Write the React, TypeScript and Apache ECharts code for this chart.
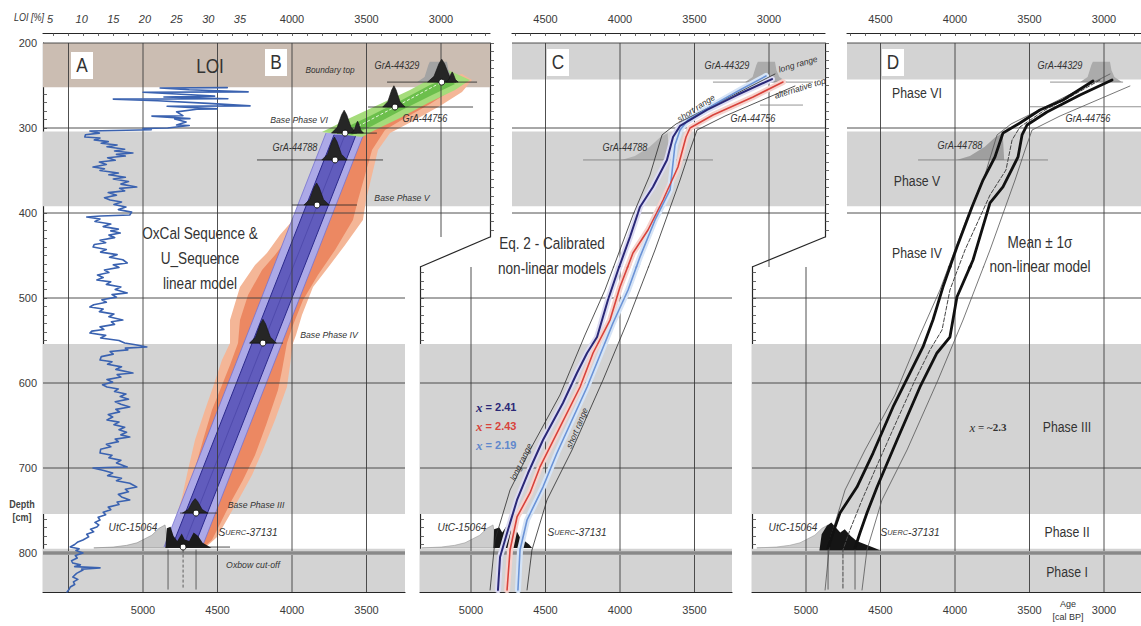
import React, { useEffect, useRef } from "react";
import * as echarts from "echarts";

// ================= DATA (age: cal BP, depth: cm, LOI: %) =================
const LOI_TICK_LABELS = [5, 10, 15, 20, 25, 30, 35];
const AGE_LABELS_B_TOP = [4000, 3500, 3000];
const AGE_LABELS_B_BOTTOM = [5000, 4500, 4000, 3500];
const AGE_LABELS_C_TOP = [4500, 4000, 3500, 3000];
const AGE_LABELS_C_BOTTOM = [5000, 4500, 4000, 3500];
const AGE_LABELS_D_TOP = [4500, 4000, 3500, 3000];
const AGE_LABELS_D_BOTTOM = [5000, 4500, 4000, 3500, 3000];
const DEPTH_LABELS_UPPER = [200, 300, 400];
const DEPTH_LABELS_LOWER = [500, 600, 700, 800];
const AGE_GRID_LINES = [5500, 5000, 4500, 4000, 3500, 3000];
const DEPTH_GRID_LINES = [200, 300, 400, 500, 600, 700, 800];

const PHASE_GRAY_BANDS = [[304, 392], [554, 754], [795, 846]];
const TOP_BAND_B = [200, 252];
const TOP_BAND_CD = [200, 243];
const OXBOW_DEPTH = 800;

// Panel A: loss on ignition [LOI %, depth]
const LOI = [
  [33.0, 252.5], [22.4, 253.0], [27.0, 255.0], [36.3, 257.5], [19.7, 258.0], [25.0, 260.0], [31.0, 262.5], [23.0, 263.5],
  [33.1, 265.5], [15.0, 266.0], [22.0, 268.0], [30.0, 271.0], [36.6, 274.0], [23.5, 274.5], [31.4, 277.5], [28.2, 278.0],
  [25.0, 281.0], [26.0, 285.5], [21.1, 286.0], [27.1, 289.0], [24.7, 289.5], [26.5, 293.0], [25.0, 296.5], [27.0, 297.0],
  [23.6, 300.0], [19.7, 300.5], [21.0, 302.0], [11.3, 303.5], [12.8, 306], [10.6, 308], [10.5, 310.6], [12.9, 311.8],
  [12.0, 314], [14.2, 316], [13.1, 318], [15.6, 320], [14.0, 322], [16.8, 325], [15.2, 327], [18.1, 329.4], [15.5, 331],
  [16.9, 333], [14.1, 335], [15.3, 338], [12.8, 340], [13.9, 343], [11.8, 345.9], [13.6, 348], [12.9, 350], [15.8, 353],
  [14.3, 355], [16.9, 358], [15.0, 360], [17.4, 363], [16.2, 366], [18.7, 369.4], [16.0, 371], [16.8, 374], [14.2, 376],
  [15.5, 379], [13.6, 382], [14.5, 384.7], [16.3, 387], [15.1, 390], [17.0, 393], [15.8, 396], [17.9, 399], [17.6, 402.4],
  [13.0, 403.5], [10.8, 404.7], [12.9, 407], [12.1, 410], [14.6, 413], [13.4, 416], [15.8, 419], [14.6, 421], [16.1, 423.5],
  [14.3, 426], [15.2, 429], [12.9, 432], [13.8, 435], [12.0, 437], [11.8, 440], [13.9, 443], [13.0, 446], [15.6, 449],
  [14.4, 452], [16.5, 455], [17.2, 458.8], [15.0, 461], [15.9, 464], [13.6, 467], [14.3, 470], [12.5, 473], [13.4, 476],
  [12.4, 478.8], [14.6, 481], [13.9, 484], [16.2, 487], [15.3, 490], [17.2, 494], [14.8, 496], [15.5, 499], [13.2, 502],
  [13.9, 505], [11.9, 508], [11.3, 510.6], [13.4, 513], [12.8, 516], [15.1, 519], [14.3, 522], [16.5, 525.9], [14.7, 528],
  [15.2, 531], [12.9, 534], [13.5, 537], [11.6, 539], [11.3, 541.2], [13.8, 544], [13.0, 547], [15.9, 550], [16.8, 553],
  [18.5, 555], [20.3, 557.6], [16.9, 559], [17.3, 561], [14.5, 563], [15.0, 566], [13.1, 569], [12.9, 572.9], [14.8, 575],
  [14.1, 578], [16.3, 581], [15.4, 584], [18.1, 588.2], [15.6, 590], [16.2, 593], [14.0, 596], [14.9, 599], [13.3, 602],
  [14.0, 604.7], [15.8, 607], [15.2, 610], [17.0, 613], [16.1, 616], [17.4, 619], [15.3, 622], [16.2, 625], [17.6, 628.2],
  [15.4, 631], [16.0, 634], [14.2, 637], [14.9, 640], [14.0, 643.5], [15.9, 646], [15.1, 649], [16.8, 652], [15.9, 655],
  [17.1, 658], [16.2, 661], [17.6, 663.5], [15.3, 666], [15.8, 669], [13.9, 672], [14.6, 675], [13.0, 678], [12.9, 682.4],
  [14.8, 685], [14.3, 688], [16.2, 691], [15.5, 694], [17.2, 698.8], [13.9, 699.5], [11.8, 700], [13.5, 703], [14.9, 706],
  [14.1, 709], [16.3, 712], [15.5, 715], [17.6, 718], [18.7, 722.4], [16.9, 725], [17.4, 728], [15.8, 731], [16.3, 734],
  [17.6, 737.6], [15.6, 740], [15.9, 743], [14.2, 746], [14.6, 749], [13.4, 752], [13.8, 755], [12.6, 758], [12.9, 761.2],
  [12.1, 764], [12.7, 767], [12.4, 769.4], [11.4, 772], [11.9, 775], [10.8, 778], [11.1, 781], [10.2, 784.7], [9.4, 787],
  [8.9, 790], [8.2, 792.9], [9.6, 795], [9.1, 797], [10.2, 800], [9.0, 803], [9.3, 806], [8.4, 809], [8.6, 811.8],
  [9.8, 814], [8.9, 816], [12.9, 817.5], [10.0, 819], [10.2, 820], [9.2, 824], [8.6, 828.2], [9.4, 831], [8.7, 834],
  [8.9, 837], [8.2, 840], [8.0, 843], [7.7, 845.9],
];

// Panel B: OxCal linear model envelopes [age, depth]
const ORANGE_OUTER = [
  [2792, 243.5], [2859, 257.6], [3007, 274.1], [3175, 290.6], [3342, 305.9], [3423, 325.9], [3463, 355.3], [3503, 384.7],
  [3524, 408.2], [3644, 437.6], [3745, 461.2], [3859, 487.1], [3933, 520], [3973, 543.5], [3993, 552.9], [4013, 578.8],
  [4034, 604.7], [4114, 643.5], [4195, 678.8], [4268, 708.2], [4349, 734.1], [4430, 758.8], [4503, 781.2], [4584, 794.1],
  [4805, 794.1], [4805, 781.2], [4772, 755.3], [4738, 734.1], [4698, 702.4], [4651, 667.1], [4584, 631.8], [4530, 604.7],
  [4470, 572.9], [4416, 552.9], [4416, 525.9], [4349, 487.1], [4248, 461.2], [4168, 447.1], [4081, 425.9], [3993, 408.2],
  [3913, 378.8], [3846, 349.4], [3799, 325.9], [3745, 309.4], [3510, 288.2], [3208, 261.2], [3007, 241.2], [2859, 236.5],
];
const ORANGE_INNER = [
  [2906, 252.9], [3074, 271.8], [3242, 288.2], [3376, 302.4], [3463, 325.9], [3510, 355.3], [3557, 384.7], [3591, 408.2],
  [3711, 443.5], [3826, 472.9], [3926, 502.4], [3993, 531.8], [4034, 552.9], [4067, 584.7], [4094, 608.2], [4174, 649.4],
  [4248, 684.7], [4329, 714.1], [4403, 737.6], [4470, 761.2], [4537, 784.7], [4584, 791.8],
  [4765, 791.8], [4752, 772.9], [4718, 749.4], [4685, 725.9], [4644, 696.5], [4597, 667.1], [4537, 631.8], [4483, 608.2],
  [4416, 578.8], [4362, 552.9], [4349, 525.9], [4295, 496.5], [4201, 467.1], [4114, 449.4], [4013, 425.9], [3940, 402.4],
  [3866, 372.9], [3812, 349.4], [3758, 325.9], [3705, 310.6], [3477, 290.6], [3195, 264.7], [3007, 248.2], [2906, 245.9],
];
const PURPLE_LIGHT_OLD = [[3772, 306], [4859, 793]];
const PURPLE_LIGHT_YOUNG = [[3516, 306], [4603, 793]];
const PURPLE_DARK_OLD = [[3718, 308], [4806, 793]];
const PURPLE_DARK_YOUNG = [[3570, 308], [4657, 793]];
const PURPLE_MID_LINE = [[3644, 308], [4731, 793]];
const GREEN_OUTER = [
  [3799, 304.7], [3611, 288.2], [3409, 271.8], [3208, 255.3], [3060, 241.2], [2953, 231.8],
  [2805, 243.5], [2906, 255.3], [3087, 270.6], [3275, 288.2], [3443, 302.4], [3530, 310.6],
];
const GREEN_INNER = [
  [3691, 303.5], [3490, 287.1], [3275, 268.2], [3074, 249.4], [2953, 241.2],
  [2906, 248.2], [3060, 261.2], [3262, 278.8], [3463, 297.6], [3597, 308.2],
];
const GREEN_CENTER = [[3644, 306], [3309, 275.3], [2995, 246]];
// [age, depth, half width (yr), height (cm)] of the calibrated probability peaks
const PEAKS_B = [
  [2995, 246, 95, 27], [2925, 246, 40, 12], [3316, 275.3, 75, 25], [3650, 306, 85, 27], [3560, 306, 40, 14],
  [3715, 337.6, 85, 27], [3835, 390.6, 85, 26], [4195, 553, 90, 28], [4650, 753, 85, 17],
];
const DOTS_B = [
  [2995, 246], [3309, 275.3], [3644, 306], [3711, 337.6], [3832, 390.6], [4195, 553], [4644, 753], [4731, 793],
];
// [depth, older age, younger age]
const B_DATE_LINES = [
  [246, 3362, 2758], [275.3, 3490, 2785], [306, 3698, 3430], [337.6, 4235, 3389], [390.6, 4000, 3564],
  [553, 4282, 4060], [753, 4752, 4503], [793, 4839, 4416],
];
const C_DATE_LINES = [[246, 3376, 2705], [273, 3060, 2772], [337.6, 4248, 3376]];
const D_DATE_LINES = [[246, 3362, 2872], [275, 3497, 2752], [337.6, 4248, 3376]];
const B_BASE_AGES = [4832, 4731, 4644];
const D_BASE_AGES = [4852, 4752, 4671];
const BASE_LINE_DEPTHS = [796, 843];

const UTC_DIST = [
  [5330, 794], [5200, 793], [5110, 791], [5040, 788], [5007, 785], [4940, 779], [4893, 771], [4852, 767], [4830, 794],
];
const GRA44329_DIST = [
  [3160, 246], [3110, 240], [3085, 226], [3075, 222], [2960, 222], [2950, 232], [2930, 240], [2880, 246],
];
const GRA44788_DIST = [[3990, 337.6], [3900, 333], [3800, 322], [3730, 311], [3680, 306], [3670, 337.6]];
const BLOB_B = [
  [4850, 794], [4840, 771], [4815, 769], [4795, 780], [4770, 786], [4740, 777], [4720, 784], [4690, 786],
  [4660, 776], [4630, 780], [4600, 788], [4540, 794],
];
const BLOB_C = [
  [4850, 794], [4845, 772], [4810, 770], [4790, 776], [4760, 768], [4730, 774], [4700, 772], [4670, 782],
  [4640, 786], [4610, 790], [4590, 794],
];
const BLOB_D = [
  [4910, 797], [4895, 778], [4860, 768], [4830, 764], [4800, 770], [4770, 776], [4740, 772], [4700, 780],
  [4660, 786], [4600, 790], [4540, 794], [4500, 797],
];

// Panel C: calibrated non-linear models [age, depth]
const C_NAVY_241 = [
  [2980, 242.4], [3215, 261.2], [3416, 278.8], [3597, 297.6], [3644, 310.6], [3685, 337.6], [3779, 369.4], [3866, 392.9],
  [3933, 428.2], [4013, 467.1], [4081, 502.4], [4154, 545.9], [4221, 564.7], [4289, 588.2], [4383, 623.5], [4517, 667.1],
  [4617, 705.9], [4691, 737.6], [4752, 772.9], [4805, 804.7], [4819, 843.5],
];
const C_RED_243 = [
  [2906, 245.9], [3107, 263.5], [3376, 284.7], [3530, 300], [3557, 310.6], [3611, 345.9], [3711, 384.7], [3812, 420],
  [3913, 447.1], [4000, 487.1], [4067, 525.9], [4181, 564.7], [4268, 604.7], [4403, 651.8], [4537, 698.8], [4604, 729.4],
  [4691, 757.6], [4738, 796.5], [4758, 843.5],
];
const C_BLUE_219 = [
  [3020, 238.8], [3195, 255.3], [3362, 271.8], [3544, 290.6], [3597, 302.4], [3631, 320], [3664, 372.9], [3765, 408.2],
  [3866, 451.8], [3946, 490.6], [4047, 529.4], [4134, 567.1], [4221, 604.7], [4322, 643.5], [4423, 682.4], [4517, 722.4],
  [4624, 761.2], [4671, 796.5], [4685, 843.5],
];
const LONG_RANGE = [
  [2960, 236.5], [3463, 281.2], [3624, 295.3], [3718, 308.2], [3799, 355.3], [3913, 402.4], [4101, 490.6], [4235, 543.5],
  [4403, 614.1], [4604, 678.8], [4738, 725.9], [4839, 784.7], [4872, 843.5],
];
const SHORT_RANGE = [
  [2826, 250.6], [3295, 285.9], [3483, 302.4], [3530, 325.9], [3597, 361.2], [3765, 443.5], [3946, 525.9], [4114, 596.5],
  [4322, 678.8], [4490, 737.6], [4591, 796.5], [4624, 843.5],
];

// Panel D: mean +- 1 sigma non-linear model [age, depth]
const D_OLDER = [
  [3074, 244.7], [3275, 267.1], [3430, 278.8], [3564, 294.1], [3678, 305.9], [3732, 334.1], [3812, 361.2], [3886, 392.9],
  [3987, 440], [4081, 487.1], [4148, 525.9], [4215, 557.6], [4302, 588.2], [4416, 628.2], [4550, 682.4], [4658, 722.4],
  [4772, 752.9], [4819, 776.5], [4852, 794.1],
];
const D_YOUNGER = [
  [2946, 243.5], [3161, 261.2], [3383, 281.2], [3517, 296.5], [3550, 308.2], [3577, 334.1], [3678, 369.4], [3765, 388.2],
  [3879, 455.3], [3987, 498.8], [4034, 545.9], [4121, 564.7], [4235, 604.7], [4389, 667.1], [4523, 722.4], [4591, 752.9],
  [4638, 776.5], [4671, 794.1],
];
const D_MEAN = [
  [3027, 243.5], [3228, 263.5], [3396, 278.8], [3564, 298.8], [3617, 314.1], [3658, 349.4], [3765, 378.8], [3933, 443.5],
  [4034, 490.6], [4087, 537.6], [4168, 561.2], [4268, 596.5], [4403, 649.4], [4537, 702.4], [4624, 737.6], [4705, 772.9],
  [4752, 796.5], [4752, 843.5],
];

// ================= LAYOUT =================
const PX_PER_YEAR = 0.149;
const PX_PER_CM = 0.85;
const PLOT_TOP = 43;
const AGE_4000_X: any = { B: 292, C: 620, D: 955 };
const ageAt = (panel: string, x: number) => 4000 - (x - AGE_4000_X[panel]) / PX_PER_YEAR;
const depthAt = (y: number) => 200 + (y - PLOT_TOP) / PX_PER_CM;
const loiAt = (x: number) => 5 + (x - 50) / 6.33;

const FONT = "'Liberation Sans', Arial, sans-serif";
const NARROW = "'Liberation Sans Narrow', 'Liberation Sans', sans-serif";
const INK = "#333";

const PARTS = [
  { panel: "B", left: 43, top: 43, width: 447, height: 194, xPos: "top", ageLabels: AGE_LABELS_B_TOP, depthLabels: DEPTH_LABELS_UPPER, showY: true, topBand: TOP_BAND_B },
  { panel: "B", left: 43, top: 237, width: 362, height: 355, xPos: "bottom", ageLabels: AGE_LABELS_B_BOTTOM, depthLabels: DEPTH_LABELS_LOWER, showY: true, topBand: TOP_BAND_B },
  { panel: "C", left: 512, top: 43, width: 313, height: 224, xPos: "top", ageLabels: AGE_LABELS_C_TOP, depthLabels: null, showY: false, topBand: TOP_BAND_CD },
  { panel: "C", left: 420, top: 267, width: 312, height: 325, xPos: "bottom", ageLabels: AGE_LABELS_C_BOTTOM, depthLabels: null, showY: true, topBand: TOP_BAND_CD },
  { panel: "D", left: 847, top: 43, width: 294, height: 224, xPos: "top", ageLabels: AGE_LABELS_D_TOP, depthLabels: null, showY: false, topBand: TOP_BAND_CD },
  { panel: "D", left: 752, top: 267, width: 389, height: 325, xPos: "bottom", ageLabels: AGE_LABELS_D_BOTTOM, depthLabels: null, showY: true, topBand: TOP_BAND_CD },
];
const FRAMES = [{ left: 490, top: 43, height: 194 }, { left: 825, top: 43, height: 194 }];

const stepValues = (min: number, max: number, step: number) => {
  const out: number[] = [];
  for (let v = Math.ceil(min / step) * step; v <= max + 1e-6; v += step) out.push(v);
  return out;
};
const plain = (v: number) => String(Math.round(v));

const poly = (api: any, pts: number[][], style: any) => ({
  type: "polygon",
  shape: { points: pts.map((p) => api.coord(p)) },
  style,
});
const pline = (api: any, pts: number[][], style: any) => ({
  type: "polyline",
  shape: { points: pts.map((p) => api.coord(p)) },
  style: { fill: "none", ...style },
});
const peakShape = (api: any, pk: number[], style: any) => {
  const [a, d, hw, h] = pk;
  return poly(api, [
    [a + hw, d], [a + hw * 0.55, d - h * 0.25], [a + hw * 0.2, d - h * 0.8], [a, d - h],
    [a - hw * 0.2, d - h * 0.8], [a - hw * 0.55, d - h * 0.25], [a - hw, d],
  ], style);
};

function buildOption() {
  const grid: any[] = [];
  const xAxis: any[] = [];
  const yAxis: any[] = [];
  const series: any[] = [];
  const axisLineStyle = { color: "#262626", width: 1.2 };
  const tickStyle = { color: "#444", width: 0.8 };
  const labelStyle = { color: "#3a3a3a", fontSize: 11, fontFamily: FONT, formatter: plain };

  PARTS.forEach((p, i) => {
    grid.push({ left: p.left, top: p.top, width: p.width, height: p.height, show: false });
    const aMin = ageAt(p.panel, p.left + p.width);
    const aMax = ageAt(p.panel, p.left);
    const dMin = depthAt(p.top);
    const dMax = depthAt(p.top + p.height);
    xAxis.push({
      type: "value", gridIndex: i, position: p.xPos, offset: p.xPos === "top" ? 10 : 0,
      min: aMin, max: aMax, inverse: true,
      axisLine: { show: true, onZero: false, lineStyle: axisLineStyle },
      axisTick: { show: true, inside: true, length: 3, customValues: stepValues(aMin, aMax, 100), lineStyle: tickStyle },
      axisLabel: { show: true, customValues: p.ageLabels, ...labelStyle, margin: p.xPos === "top" ? 9 : 12 },
      splitLine: { show: false },
    });
    yAxis.push({
      type: "value", gridIndex: i, position: "left", min: dMin, max: dMax, inverse: true, show: p.showY,
      axisLine: { show: true, onZero: false, lineStyle: axisLineStyle },
      axisTick: { show: true, inside: true, length: 4, customValues: stepValues(dMin, dMax, 10), lineStyle: tickStyle },
      axisLabel: p.depthLabels
        ? { show: true, customValues: p.depthLabels, ...labelStyle, margin: 6 }
        : { show: false },
      splitLine: { show: false },
    });
  });
  // LOI axes (panel A shares the B grids)
  xAxis.push({
    type: "value", gridIndex: 0, position: "top", offset: 10, min: loiAt(43), max: loiAt(490),
    axisLine: { show: false }, axisTick: { show: false }, splitLine: { show: false },
    axisLabel: { show: true, customValues: LOI_TICK_LABELS, ...labelStyle, fontStyle: "italic", margin: 9 },
  });
  xAxis.push({ type: "value", gridIndex: 1, show: false, min: loiAt(43), max: loiAt(405) });
  // frame grids (upper left borders of C and D)
  FRAMES.forEach((f, k) => {
    const gi = PARTS.length + k;
    grid.push({ left: f.left, top: f.top, width: 10, height: f.height, show: false });
    xAxis.push({ type: "value", gridIndex: gi, show: false, min: 0, max: 1 });
    const dMin = depthAt(f.top);
    const dMax = depthAt(f.top + f.height);
    yAxis.push({
      type: "value", gridIndex: gi, position: "left", min: dMin, max: dMax, inverse: true,
      axisLine: { show: true, onZero: false, lineStyle: axisLineStyle },
      axisTick: { show: true, inside: true, length: 4, customValues: stepValues(dMin, dMax, 10), lineStyle: tickStyle },
      axisLabel: { show: false }, splitLine: { show: false },
    });
  });

  const custom = (i: number, z: number, clip: boolean, build: (api: any, cs: any) => any[]) => {
    const p = PARTS[i];
    const mid = [(ageAt(p.panel, p.left) + ageAt(p.panel, p.left + p.width)) / 2, depthAt(p.top + p.height / 2)];
    return {
      type: "custom", xAxisIndex: i, yAxisIndex: i, z, clip, silent: true, data: [mid],
      renderItem: (params: any, api: any) => ({ type: "group", children: build(api, params.coordSys) }),
    };
  };
  const line = (xi: number, yi: number, data: number[][], color: string, width: number, z: number, type = "solid") => ({
    type: "line", xAxisIndex: xi, yAxisIndex: yi, data, symbol: "none", showSymbol: false, silent: true, z, clip: true,
    lineStyle: { color, width, type, cap: "round", join: "round" },
  });

  PARTS.forEach((p, i) => {
    const aMin = ageAt(p.panel, p.left + p.width);
    const aMax = ageAt(p.panel, p.left);
    const dMin = depthAt(p.top);
    const dMax = depthAt(p.top + p.height);
    const aMid = (aMin + aMax) / 2;

    // phase bands
    series.push(custom(i, 1, true, (api, cs) => {
      const els: any[] = [];
      const band = (d0: number, d1: number, fill: string) => {
        const y0 = api.coord([aMid, d0])[1];
        const y1 = api.coord([aMid, d1])[1];
        els.push({ type: "rect", shape: { x: cs.x, y: Math.min(y0, y1), width: cs.width, height: Math.abs(y1 - y0) }, style: { fill } });
      };
      band(p.topBand[0], p.topBand[1], p.panel === "B" ? "#cbbdb2" : "#d3d3d3");
      PHASE_GRAY_BANDS.forEach(([a, b]) => band(a, b, "#d3d3d3"));
      return els;
    }));

    // grid lines, oxbow line, date lines
    const dateLines = p.panel === "B" ? B_DATE_LINES : p.panel === "C" ? C_DATE_LINES : D_DATE_LINES;
    series.push(custom(i, 3, false, (api, cs) => {
      const els: any[] = [];
      AGE_GRID_LINES.forEach((a) => {
        if (a > aMin && a < aMax) {
          const x = api.coord([a, dMin])[0];
          els.push({ type: "line", shape: { x1: x, y1: cs.y, x2: x, y2: cs.y + cs.height }, style: { stroke: "#3c3c3c", lineWidth: 0.9 } });
        }
      });
      DEPTH_GRID_LINES.forEach((d) => {
        if (d >= dMin - 0.01 && d <= dMax) {
          const y = api.coord([aMid, d])[1];
          els.push({ type: "line", shape: { x1: cs.x, y1: y, x2: cs.x + cs.width, y2: y }, style: { stroke: "#3c3c3c", lineWidth: 0.9 } });
        }
      });
      if (OXBOW_DEPTH > dMin && OXBOW_DEPTH < dMax) {
        const y = api.coord([aMid, OXBOW_DEPTH])[1];
        els.push({ type: "line", shape: { x1: cs.x, y1: y, x2: cs.x + cs.width, y2: y }, style: { stroke: "#9d9d9d", lineWidth: 4 } });
        els.push({ type: "line", shape: { x1: cs.x, y1: y, x2: cs.x + cs.width, y2: y }, style: { stroke: "#6a6a6a", lineWidth: 0.8 } });
      }
      dateLines.forEach(([d, a0, a1]) => {
        if (d > dMin && d < dMax) {
          const p0 = api.coord([a0, d]);
          const p1 = api.coord([a1, d]);
          els.push({ type: "line", shape: { x1: p0[0], y1: p0[1], x2: p1[0], y2: p1[1] }, style: { stroke: p.panel === "B" ? "#222" : "#777", lineWidth: 0.8 } });
        }
      });
      return els;
    }));

    if (p.panel === "B") {
      series.push(custom(i, 2, true, (api) => [
        poly(api, UTC_DIST, { fill: "#c8c8c8", stroke: "#8c8c8c", lineWidth: 0.6 }),
        poly(api, ORANGE_OUTER, { fill: "#f4b697" }),
        poly(api, ORANGE_INNER, { fill: "#ec8862" }),
        poly(api, PURPLE_LIGHT_OLD.concat(PURPLE_LIGHT_YOUNG.slice().reverse()), { fill: "#aca9e7" }),
        poly(api, PURPLE_DARK_OLD.concat(PURPLE_DARK_YOUNG.slice().reverse()), { fill: "#615cbd" }),
        pline(api, PURPLE_DARK_OLD, { stroke: "#2b298c", lineWidth: 1 }),
        pline(api, PURPLE_DARK_YOUNG, { stroke: "#2b298c", lineWidth: 1 }),
        pline(api, PURPLE_MID_LINE, { stroke: "#4b46a8", lineWidth: 0.8 }),
        pline(api, PURPLE_LIGHT_OLD, { stroke: "#7672cf", lineWidth: 0.8 }),
        pline(api, PURPLE_LIGHT_YOUNG, { stroke: "#7672cf", lineWidth: 0.8 }),
        poly(api, GREEN_OUTER, { fill: "#a5dc7b" }),
        poly(api, GREEN_INNER, { fill: "#6cbf4c" }),
        pline(api, GREEN_CENTER, { stroke: "#e9f6de", lineWidth: 1, lineDash: [3, 2] }),
        poly(api, GRA44329_DIST, { fill: "#a3a3a3" }),
        poly(api, BLOB_B, { fill: "#1b1b1b" }),
      ]));
      series.push(line(PARTS.length + i, i, LOI, "#3a62b0", 1.6, 5));
      series.push(custom(i, 6, true, (api) => {
        const els: any[] = PEAKS_B.map((pk) => peakShape(api, pk, { fill: "#262626", stroke: "#111", lineWidth: 0.6 }));
        B_BASE_AGES.forEach((a, k) => {
          const p0 = api.coord([a, BASE_LINE_DEPTHS[0]]);
          const p1 = api.coord([a, BASE_LINE_DEPTHS[1]]);
          els.push({ type: "line", shape: { x1: p0[0], y1: p0[1], x2: p1[0], y2: p1[1] }, style: { stroke: "#444", lineWidth: 0.8, lineDash: k === 1 ? [3, 2] : null } });
        });
        DOTS_B.forEach((pt) => {
          const c = api.coord(pt);
          els.push({ type: "circle", shape: { cx: c[0], cy: c[1], r: 3 }, style: { fill: "#fff", stroke: "#111", lineWidth: 1 } });
        });
        return els;
      }));
    } else if (p.panel === "C") {
      series.push(custom(i, 2, true, (api) => [
        poly(api, UTC_DIST, { fill: "#cdcdcd", stroke: "#999", lineWidth: 0.6 }),
        poly(api, GRA44329_DIST, { fill: "#ababab" }),
        poly(api, GRA44788_DIST, { fill: "#b2b2b2" }),
        poly(api, BLOB_C, { fill: "#171717" }),
      ]));
      series.push(line(i, i, C_NAVY_241, "#dcdbf2", 6, 4));
      series.push(line(i, i, C_RED_243, "#f6d3ce", 6, 4));
      series.push(line(i, i, C_BLUE_219, "#d6e4f6", 6, 4));
      series.push(line(i, i, LONG_RANGE, "#2a2a2a", 0.8, 5));
      series.push(line(i, i, SHORT_RANGE, "#2a2a2a", 0.8, 5));
      series.push(line(i, i, C_BLUE_219, "#6b93d6", 1.6, 5));
      series.push(line(i, i, C_RED_243, "#d8433b", 1.6, 5));
      series.push(line(i, i, C_NAVY_241, "#2a2877", 2, 5));
    } else {
      series.push(custom(i, 2, true, (api) => [
        poly(api, UTC_DIST, { fill: "#cdcdcd", stroke: "#999", lineWidth: 0.6 }),
        poly(api, GRA44329_DIST, { fill: "#ababab" }),
        poly(api, GRA44788_DIST, { fill: "#9f9f9f" }),
        poly(api, BLOB_D, { fill: "#151515" }),
      ]));
      series.push(line(i, i, LONG_RANGE, "#555", 0.8, 5));
      series.push(line(i, i, SHORT_RANGE, "#555", 0.8, 5));
      series.push(line(i, i, D_MEAN, "#444", 1, 5, "dashed"));
      series.push(line(i, i, D_OLDER, "#111", 2.8, 5));
      series.push(line(i, i, D_YOUNGER, "#111", 2.8, 5));
      series.push(custom(i, 6, true, (api) =>
        D_BASE_AGES.filter((_, k) => k !== 1).map((a) => {
          const p0 = api.coord([a, BASE_LINE_DEPTHS[0]]);
          const p1 = api.coord([a, BASE_LINE_DEPTHS[1]]);
          return { type: "line", shape: { x1: p0[0], y1: p0[1], x2: p1[0], y2: p1[1] }, style: { stroke: "#444", lineWidth: 0.8 } };
        })
      ));
    }
  });

  // ---------- annotations ----------
  const T = (text: string, x: number, y: number, o: any = {}) => ({
    type: "text", x, y, rotation: ((o.rot || 0) * Math.PI) / 180, scaleX: o.sx || 1, silent: true, z: 100,
    style: {
      text, fill: o.color || INK, fontSize: o.size || 10, fontFamily: o.family || FONT,
      fontStyle: o.italic ? "italic" : "normal", fontWeight: o.bold ? "bold" : "normal",
      align: o.align || "center", verticalAlign: "middle", textAlign: o.align || "center", textVerticalAlign: "middle",
      rich: o.rich,
    },
  });
  const box = (x: number, y: number) => ({ type: "rect", shape: { x, y, width: 22, height: 27 }, style: { fill: "#fff" }, silent: true, z: 99 });
  const suerc = (x: number, y: number) => T("{a|S}{b|UERC}-37131", x, y, {
    italic: true, size: 11, sx: 0.92,
    rich: { a: { fontSize: 11, fontStyle: "italic", fill: INK, fontFamily: FONT }, b: { fontSize: 8, fontStyle: "italic", fill: INK, fontFamily: FONT } },
  });
  const xEq = (val: string, x: number, y: number, color: string) => T(`{i|x} = ${val}`, x, y, {
    align: "left", bold: true, size: 11, color,
    rich: { i: { fontFamily: "'Liberation Serif', serif", fontStyle: "italic", fontSize: 13, fill: color, fontWeight: "bold" } },
  });
  const big = { size: 17, family: NARROW, sx: 0.8 };
  const phase = { size: 15, family: NARROW, sx: 0.82 };
  const letter = { size: 21, family: NARROW, sx: 0.82 };
  const tag = { italic: true, size: 10, sx: 0.92 };
  const tagS = { italic: true, size: 9.5, sx: 0.92 };
  const graphic: any[] = [
    { type: "line", shape: { x1: 490, y1: 237, x2: 420, y2: 267 }, style: { stroke: "#262626", lineWidth: 1.2 }, silent: true },
    { type: "line", shape: { x1: 825, y1: 237, x2: 752, y2: 267 }, style: { stroke: "#262626", lineWidth: 1.2 }, silent: true },
    box(71, 52), box(265, 49), box(547, 49), box(882, 49),
    T("A", 82, 65, letter),
    T("B", 276, 62, letter),
    T("C", 558, 62, letter),
    T("D", 893, 62, letter),
    T("LOI [%]", 44, 17, { align: "right", italic: true, size: 10, sx: 0.9 }),
    T("LOI", 210, 66, letter),
    T("Boundary top", 330, 70, { italic: true, size: 9, sx: 0.92 }),
    T("GrA-44329", 397, 65, tag),
    T("Base Phase VI", 299, 120, tagS),
    T("GrA-44756", 425, 118, tag),
    T("GrA-44788", 295, 147, tag),
    T("Base Phase V", 402, 198, tagS),
    T("OxCal Sequence &", 200, 233, big),
    T("U_Sequence", 200, 258, big),
    T("linear model", 200, 283, big),
    T("Base Phase IV", 329, 335, tagS),
    T("Base Phase III", 256, 505, tagS),
    T("UtC-15064", 133, 527, { italic: true, size: 11, sx: 0.92 }),
    suerc(248, 532),
    T("Oxbow cut-off", 253, 565, tagS),
    T("Depth", 22, 504, { size: 10, bold: true, color: "#444", sx: 0.9 }),
    T("[cm]", 22, 517, { size: 10, bold: true, color: "#444", sx: 0.9 }),
    // panel C
    T("GrA-44329", 727, 65, tag),
    T("long range", 798, 64, { italic: true, size: 8.5, rot: 16 }),
    T("alternative top", 800, 88, { italic: true, size: 8.5, rot: 17 }),
    T("short range", 696, 108, { italic: true, size: 8.5, rot: 33 }),
    T("GrA-44756", 753, 118, tag),
    T("GrA-44788", 625, 147, tag),
    T("Eq. 2 - Calibrated", 552, 243, big),
    T("non-linear models", 552, 268, big),
    xEq("2.41", 476, 407, "#2a2877"),
    xEq("2.43", 476, 426, "#d8433b"),
    xEq("2.19", 476, 445, "#5f88cc"),
    T("long range", 521, 462, { italic: true, size: 8.5, rot: 64 }),
    T("short range", 577, 428, { italic: true, size: 8.5, rot: 67 }),
    T("UtC-15064", 462, 527, { italic: true, size: 11, sx: 0.92 }),
    suerc(577, 532),
    // panel D
    T("GrA-44329", 1060, 65, tag),
    T("Phase VI", 917, 93, phase),
    T("GrA-44756", 1088, 118, tag),
    T("GrA-44788", 960, 145, tag),
    T("Phase V", 917, 181, phase),
    T("Phase IV", 917, 253, phase),
    T("Mean ± 1σ", 1040, 242, big),
    T("non-linear model", 1040, 266, big),
    T("{i|x} = ~2.3", 988, 427, {
      size: 11, bold: true, family: "'Liberation Serif', serif",
      rich: { i: { fontFamily: "'Liberation Serif', serif", fontStyle: "italic", fontSize: 13, fill: INK } },
    }),
    T("Phase III", 1067, 427, phase),
    T("UtC-15064", 793, 527, { italic: true, size: 11, sx: 0.92 }),
    suerc(910, 532),
    T("Phase II", 1067, 532, phase),
    T("Phase I", 1067, 572, phase),
    T("Age", 1068, 604, { size: 9 }),
    T("[cal BP]", 1068, 617, { size: 9 }),
  ];

  return { animation: false, backgroundColor: "#fff", grid, xAxis, yAxis, series, graphic };
}

export default function App() {
  const ref = useRef<HTMLDivElement>(null);
  useEffect(() => {
    document.body.style.margin = "0";
    if (!ref.current) return;
    const chart = echarts.init(ref.current, undefined, { renderer: "svg" });
    chart.setOption(buildOption());
    return () => chart.dispose();
  }, []);
  return <div ref={ref} style={{ width: 1141, height: 626 }} />;
}
